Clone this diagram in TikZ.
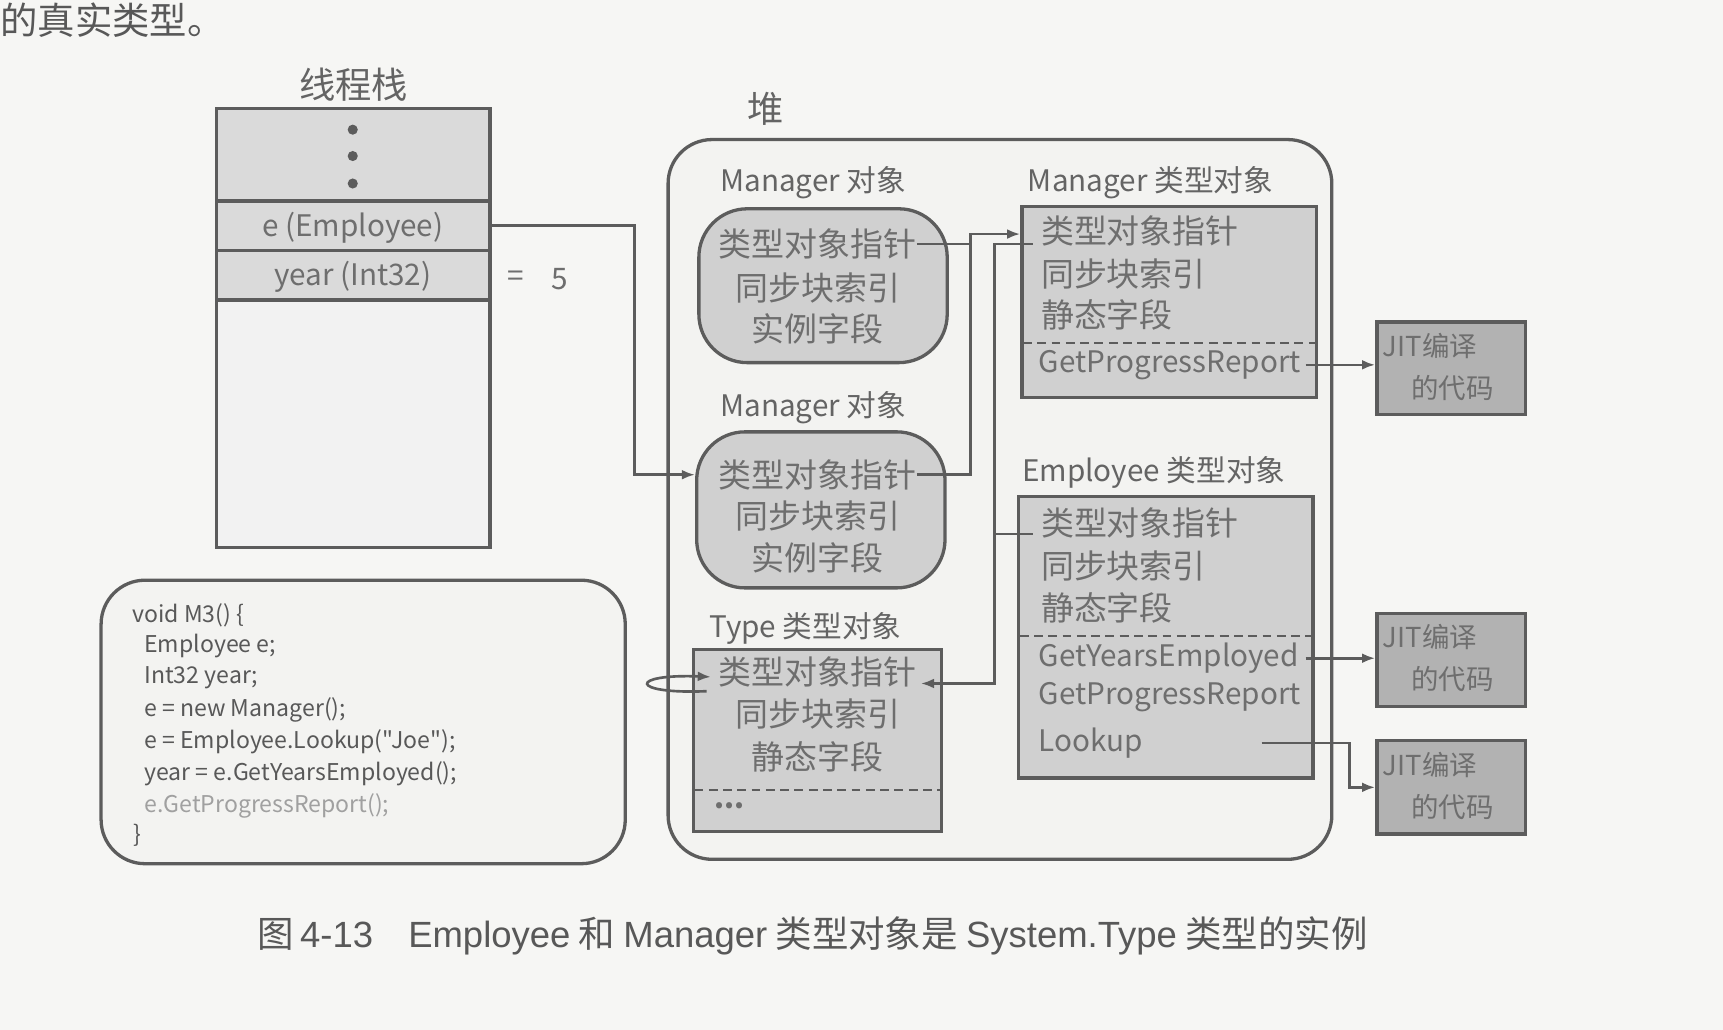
\documentclass[tikz,border=0pt]{standalone}
\usepackage{fontspec}
\setmainfont{Noto Sans CJK SC}
\newfontfamily\arial{Liberation Sans}
\newfontfamily\codefont{Noto Sans CJK SC}[Ligatures=TeXOff]
\usetikzlibrary{arrows.meta,calc}
\definecolor{bgc}{HTML}{F6F6F4}
\definecolor{heapc}{HTML}{F3F3F1}
\definecolor{linec}{HTML}{5C5C5C}
\definecolor{boxc}{HTML}{D0D0D0}
\definecolor{stackc}{HTML}{DADADA}
\definecolor{restc}{HTML}{F2F2F2}
\definecolor{jitc}{HTML}{B2B2B2}
\definecolor{txtc}{HTML}{6E6E6E}
\definecolor{labc}{HTML}{646464}
\definecolor{codec}{HTML}{585858}
\definecolor{fadec}{HTML}{A0A0A0}
\tikzset{
  frame/.style={draw=linec, line width=1.5pt},
  cell/.style={frame, fill=stackc, minimum width=124.5pt, inner sep=0pt},
  gbox/.style={frame, fill=boxc, inner sep=0pt},
  jitbox/.style={frame, fill=jitc, minimum width=67.5pt, inner sep=0pt},
  cn/.style={font=\fontsize{15}{18}\selectfont, text=txtc, inner sep=0pt},
  lab/.style={font=\fontsize{13.5}{16}\selectfont, text=labc, inner sep=0pt},
  mth/.style={font=\fontsize{13.5}{16}\selectfont, text=txtc, inner sep=0pt, anchor=west},
  jt/.style={font=\fontsize{12.5}{15}\selectfont, text=txtc, inner sep=0pt},
  code/.style={font=\codefont\fontsize{10.5}{12}\selectfont, text=codec, inner sep=0pt, anchor=west},
  title/.style={font=\fontsize{16.5}{19}\selectfont, text=labc, inner sep=0pt},
  conn/.style={draw=linec, line width=1.2pt, -{Latex[length=6pt,width=4.5pt]}},
  wire/.style={draw=linec, line width=1.2pt},
  dsh/.style={draw=linec, line width=1pt, dash pattern=on 4pt off 2.5pt},
}
\begin{document}
\begin{tikzpicture}[x=0.5pt,y=-0.5pt]
\useasboundingbox (0,0) rectangle (1568,937);
\fill[bgc] (0,0) rectangle (1568,937);

% top text
\node[font=\fontsize{17}{20}\selectfont, text=codec, anchor=west, inner sep=0pt] (toptext) at (0,18) {的真实类型。};

% thread stack
\node[title] (stacktitle) at (322,77) {线程栈};
\node[cell, minimum height=42pt] (stacktop) at (321.5,141) {};
\node[cell, minimum height=22.5pt] (ecell) at (321.5,205.5) {};
\node[cell, minimum height=22.5pt] (yearcell) at (321.5,250.5) {};
\node[cell, fill=restc, minimum height=112.5pt] (stackrest) at (321.5,385.5) {};
\fill[linec] (321,118) circle (2.3pt) (321,142) circle (2.3pt) (321,167) circle (2.3pt);
\node[lab, text=txtc] (etext) at (321,207) {e (Employee)};
\node[lab, text=txtc] (yeartext) at (321,252) {year (Int32)};
\node[lab, text=txtc] (eq) at (469,254) {=};
\node[lab, text=txtc] (five) at (509,254) {5};

% heap
\node[title] (heaptitle) at (697,99) {堆};
\node[frame, fill=heapc, rounded corners=20pt, minimum width=302pt, minimum height=327.5pt] (heap) at (910,454.5) {};

% Manager objects
\node[lab] (m1lab) at (740,166) {Manager 对象};
\node[gbox, rounded corners=22pt, minimum width=113pt, minimum height=70pt] (mobj1) at (749,260) {};
\node[cn] (m1ptr) at (744,222) {类型对象指针};
\node[cn] (m1sync) at (744,262) {同步块索引};
\node[cn] (m1inst) at (744,299) {实例字段};

\node[lab] (m2lab) at (740,371) {Manager 对象};
\node[gbox, rounded corners=22pt, minimum width=113pt, minimum height=71pt] (mobj2) at (747,464) {};
\node[cn] (m2ptr) at (744,432) {类型对象指针};
\node[cn] (m2sync) at (744,470) {同步块索引};
\node[cn] (m2inst) at (744,508) {实例字段};

% Type type object
\node[lab] (tlab) at (733,572) {Type 类型对象};
\node[gbox, minimum width=113pt, minimum height=83pt] (ttype) at (744,674) {};
\node[cn] (tptr) at (744,611) {类型对象指针};
\node[cn] (tsync) at (744,650) {同步块索引};
\node[cn] (tstat) at (744,689) {静态字段};
\draw[dsh] (632,719) -- (856,719);
\node[lab, text=txtc, font=\bfseries\fontsize{13}{15}\selectfont] (tdots) at (664,733) {...};

% Manager type object
\node[lab] (mtlab) at (1047,166) {Manager 类型对象};
\node[gbox, minimum width=134pt, minimum height=87pt] (mtype) at (1064,275) {};
\node[cn, anchor=west] (mtptr) at (947,210) {类型对象指针};
\node[cn, anchor=west] (mtsync) at (947,249) {同步块索引};
\node[cn, anchor=west] (mtstat) at (947,287) {静态字段};
\draw[dsh] (931,312) -- (1197,312);
\node[mth] (mtgpr) at (945,332) {GetProgressReport};

% Employee type object
\node[lab] (etlab) at (1050,430) {Employee 类型对象};
\node[gbox, minimum width=134pt, minimum height=128pt] (etype) at (1061,580) {};
\node[cn, anchor=west] (etptr) at (947,476) {类型对象指针};
\node[cn, anchor=west] (etsync) at (947,515) {同步块索引};
\node[cn, anchor=west] (etstat) at (947,553) {静态字段};
\draw[dsh] (928,579) -- (1194,579);
\node[mth] (etgye) at (945,599) {GetYearsEmployed};
\node[mth] (etgpr) at (945,634) {GetProgressReport};
\node[mth] (etlook) at (945,676) {Lookup};

% JIT boxes
\node[jitbox, minimum height=42pt] (jit1) at (1320.5,335) {};
\node[jt, anchor=west] (jit1a) at (1258,315) {JIT编译};
\node[jt] (jit1b) at (1322,353) {的代码};
\node[jitbox, minimum height=42.5pt] (jit2) at (1320.5,600.5) {};
\node[jt, anchor=west] (jit2a) at (1258,580) {JIT编译};
\node[jt] (jit2b) at (1322,618) {的代码};
\node[jitbox, minimum height=42.5pt] (jit3) at (1320.5,716.5) {};
\node[jt, anchor=west] (jit3a) at (1258,696) {JIT编译};
\node[jt] (jit3b) at (1322,734) {的代码};

% code box
\node[frame, fill=heapc, rounded corners=20pt, minimum width=238.5pt, minimum height=129pt] (codebox) at (330.5,657) {};
\node[code] (c1) at (120,560) {void M3() \{};
\node[code] (c2) at (131,588) {Employee e;};
\node[code] (c3) at (131,617) {Int32 year;};
\node[code] (c4) at (131,646) {e = new Manager();};
\node[code] (c5) at (131,675) {e = Employee.Lookup("Joe");};
\node[code] (c6) at (131,704) {year = e.GetYearsEmployed();};
\node[code, text=fadec] (c7) at (131,733) {e.GetProgressReport();};
\node[code] (c8) at (121,760) {\}};

% caption
\node[font=\fontsize{16.6}{19}\selectfont, text=codec, anchor=west, inner sep=0pt] (caption) at (234,852)
  {图\,{\arial 4-13}\hspace{16pt}{\arial Employee} 和 {\arial Manager} 类型对象是 {\arial System.Type} 类型的实例};

% connectors
\coordinate (j1) at (883,213);
\coordinate (j2) at (905,622);
\coordinate (mtp) at (940,222);
\coordinate (etp) at (940,486);
\coordinate (ttp) at (838,622);
\coordinate (lk) at (1148,676);
\coordinate (lkb) at (1228,676);

\draw[conn] (ecell.east) -- ++(130,0) |- (mobj2.west |- m2ptr);
\draw[wire] (m1ptr.east) -- (m1ptr.east -| j1);
\draw[conn] (m2ptr.east) -| (j1) -- (mtype.west |- j1);
\draw[conn] (mtp) -| (j2) -- (ttp);
\draw[wire] (etp) -- (etp -| j2);
\draw[conn] (643,629) .. controls (572,632) and (572,613) .. (647,616);
\draw[conn] (mtgpr.east) ++(4,0) -- (jit1.west |- mtgpr.east);
\draw[conn] (etgye.east) ++(6,0) -- (jit2.west |- etgye.east);
\draw[conn] (lk) -- (lkb) |- (jit3.west);
\end{tikzpicture}
\end{document}
